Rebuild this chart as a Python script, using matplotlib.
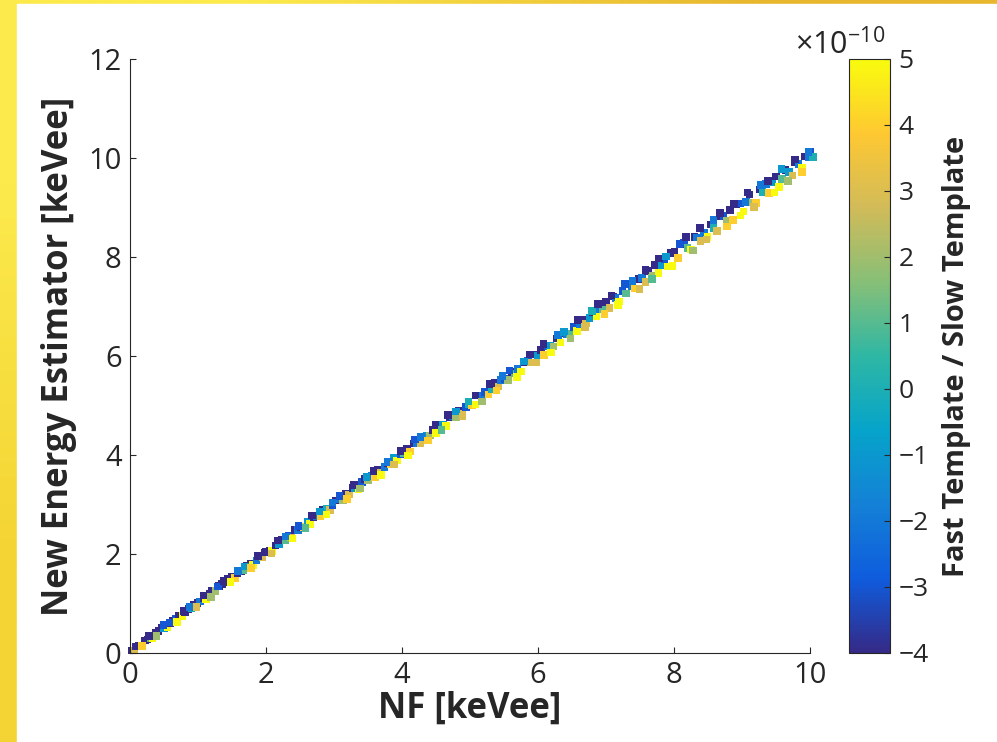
import numpy as np
import matplotlib
matplotlib.use('Agg')
import matplotlib.pyplot as plt
from matplotlib.colors import LinearSegmentedColormap
from matplotlib.patches import Rectangle

plt.rcParams['font.family'] = ['Open Sans', 'DejaVu Sans']
plt.rcParams['mathtext.fontset'] = 'custom'
plt.rcParams['mathtext.rm'] = 'Open Sans'
plt.rcParams['mathtext.it'] = 'Open Sans'

# Dados: energia NF, desvio do novo estimador e razao de templates (x1e-10)
nf = np.array([
    0.03, 0.06, 0.10, 0.13, 0.17, 0.22, 0.26, 0.30, 0.33, 0.38,
    0.42, 0.47, 0.50, 0.55, 0.59, 0.63, 0.68, 0.72, 0.77, 0.81,
    0.86, 0.90, 0.94, 0.99, 1.03, 1.08, 1.12, 1.17, 1.21, 1.26,
    1.31, 1.35, 1.40, 1.44, 1.49, 1.54, 1.58, 1.63, 1.67, 1.72,
    1.77, 1.81, 1.86, 1.91, 1.95, 2.00, 2.05, 2.09, 2.14, 2.19,
    2.23, 2.28, 2.33, 2.37, 2.42, 2.47, 2.51, 2.56, 2.61, 2.65,
    2.70, 2.75, 2.80, 2.84, 2.89, 2.94, 2.98, 3.03, 3.08, 3.13,
    3.17, 3.22, 3.27, 3.31, 3.36, 3.41, 3.46, 3.50, 3.55, 3.60,
    3.65, 3.69, 3.74, 3.79, 3.84, 3.88, 3.93, 3.98, 4.03, 4.07,
    4.12, 4.17, 4.22, 4.27, 4.31, 4.36, 4.41, 4.46, 4.50, 4.55,
    4.60, 4.65, 4.70, 4.74, 4.79, 4.84, 4.89, 4.94, 4.98, 5.03,
    5.08, 5.13, 5.18, 5.22, 5.27, 5.32, 5.37, 5.42, 5.46, 5.51,
    5.56, 5.61, 5.66, 5.70, 5.75, 5.80, 5.85, 5.90, 5.94, 5.99,
    6.04, 6.09, 6.14, 6.18, 6.23, 6.28, 6.33, 6.38, 6.42, 6.47,
    6.52, 6.57, 6.62, 6.66, 6.71, 6.76, 6.81, 6.86, 6.90, 6.95,
    7.00, 7.05, 7.10, 7.14, 7.19, 7.24, 7.29, 7.34, 7.38, 7.43,
    7.48, 7.53, 7.58, 7.62, 7.67, 7.72, 7.77, 7.82, 7.86, 7.91,
    7.96, 8.01, 8.06, 8.10, 8.15, 8.20, 8.25, 8.30, 8.34, 8.39,
    8.44, 8.49, 8.54, 8.58, 8.63, 8.68, 8.73, 8.78, 8.82, 8.87,
    8.92, 8.97, 9.02, 9.06, 9.11, 9.16, 9.21, 9.26, 9.30, 9.35,
    9.40, 9.45, 9.50, 9.54, 9.59, 9.64, 9.69, 9.74, 9.78, 9.83,
    9.88, 9.93, 9.98, 10.01, 10.04])

desvio = np.array([
    0.02, -0.01, 0.03, 0.02, -0.03, 0.03, 0.01, 0.00, -0.03, 0.02,
    0.03, 0.04, 0.00, -0.03, 0.02, 0.03, 0.01, 0.04, -0.02, 0.02,
    0.03, 0.00, 0.04, 0.02, 0.01, 0.03, -0.03, 0.02, 0.04, -0.01,
    0.04, 0.05, 0.03, 0.05, 0.04, -0.02, 0.03, 0.02, 0.00, 0.04,
    0.03, -0.03, 0.01, 0.04, -0.02, 0.04, 0.02, -0.03, 0.03, 0.00,
    0.05, -0.01, 0.04, -0.04, 0.06, 0.02, 0.03, -0.02, 0.05, -0.04,
    0.04, 0.02, -0.03, 0.06, 0.03, -0.05, 0.00, 0.05, 0.02, -0.04,
    0.05, -0.02, 0.06, 0.01, -0.05, 0.04, 0.06, -0.01, 0.03, -0.04,
    0.05, -0.05, 0.02, 0.04, -0.03, 0.06, -0.04, 0.03, 0.00, 0.05,
    -0.05, 0.06, 0.02, -0.04, 0.05, 0.03, -0.02, 0.04, -0.06, 0.05,
    0.01, -0.06, 0.07, 0.04, -0.02, 0.06, -0.05, 0.03, 0.05, -0.03,
    -0.06, 0.07, 0.02, 0.05, -0.05, 0.00, 0.08, -0.04, 0.06, 0.03,
    -0.05, 0.07, -0.01, 0.04, -0.06, 0.08, 0.05, -0.03, 0.09, 0.02,
    0.08, -0.07, 0.06, 0.02, -0.04, 0.07, -0.06, 0.09, 0.03, -0.02,
    0.06, -0.07, 0.03, 0.08, -0.05, 0.01, 0.07, -0.06, 0.04, -0.01,
    0.09, -0.08, 0.10, 0.03, -0.09, 0.07, -0.03, 0.11, 0.04, -0.07,
    0.08, 0.04, -0.08, 0.10, -0.05, 0.12, -0.09, 0.01, 0.09, -0.10,
    0.12, 0.10, -0.08, 0.15, 0.13, -0.02, -0.10, 0.11, 0.05, -0.07,
    0.04, -0.09, 0.12, 0.00, -0.11, 0.14, 0.10, -0.05, 0.13, -0.12,
    0.14, 0.11, -0.10, 0.05, 0.15, -0.06, -0.12, 0.10, 0.01, 0.12,
    -0.11, 0.06, 0.13, -0.12, -0.01, 0.12, 0.03, -0.09, 0.14, 0.05,
    -0.08, 0.10, 0.03, 0.12, -0.02])

razao = np.array([
    -5, 3, -5, -5, 6, -5, -5, 1, 6, -5,
    -5, -5, -1, 6, -5, -5, -3, -5, 6, -5,
    -5, 0, -5, -5, -2, -5, 6, -5, -5, 2,
    -5, -5, -5, -5, -5, 4, -5, -5, 1, -5,
    -5, 6, -2, -5, 3, -5, -5, 5, -5, -1,
    -5, 1, -3, 3, -5, -2, -5, 4, -1, 6,
    -5, -2, 4, -5, 0, 3, -3, -5, -2, 2,
    -5, 3, -5, -1, 6, -3, -5, 2, -2, 4,
    -5, 3, -2, -5, 4, -1, 6, -3, 1, -5,
    4, -5, -2, 3, -5, -1, 2, -4, 6, -3,
    -1, 5, -5, -2, 2, -5, 3, -3, 0, 4,
    6, -5, -2, -3, 4, 0, -5, 3, -2, -3,
    2, -5, 1, -2, 6, -5, -3, 3, -5, -1,
    -5, 4, -3, -1, 2, -5, 6, -4, -2, 1,
    -3, 6, -2, -5, 3, -1, -4, 5, -2, 1,
    -5, 3, -5, -2, 6, -3, 1, -5, -2, 4,
    -5, -2, 3, -5, 2, -5, 6, -1, -3, 5,
    -5, -5, 4, -5, -3, 1, 6, -5, -2, 3,
    -2, 5, -5, 0, 3, -5, -3, 2, -5, 4,
    -5, -3, 6, -2, -5, 2, 4, -5, 0, -2,
    4, -1, -5, 6, 1, -5, -1, 3, -5, -2,
    5, -5, -2, -3, 0])

# segundo grupo de eventos (mais dispersos)
nf2 = np.array([
    0.08, 0.18, 0.28, 0.39, 0.49, 0.58, 0.69, 0.79, 0.88, 0.98,
    1.09, 1.19, 1.29, 1.38, 1.48, 1.59, 1.69, 1.78, 1.88, 1.98,
    2.08, 2.18, 2.29, 2.39, 2.48, 2.58, 2.68, 2.79, 2.89, 2.98,
    3.08, 3.19, 3.29, 3.38, 3.48, 3.58, 3.69, 3.79, 3.88, 3.98,
    4.09, 4.19, 4.28, 4.38, 4.49, 4.58, 4.68, 4.79, 4.89, 4.98,
    5.08, 5.18, 5.29, 5.39, 5.48, 5.58, 5.69, 5.79, 5.88, 5.98,
    6.08, 6.19, 6.29, 6.38, 6.48, 6.58, 6.69, 6.79, 6.88, 6.98,
    7.08, 7.18, 7.28, 7.39, 7.49, 7.58, 7.68, 7.78, 7.88, 7.98,
    8.08, 8.18, 8.28, 8.38, 8.48, 8.58, 8.68, 8.78, 8.88, 8.98,
    9.08, 9.18, 9.28, 9.38, 9.48, 9.58, 9.68, 9.78, 9.88, 9.98])

desvio2 = np.array([
    0.05, -0.04, 0.06, -0.05, 0.07, 0.04, -0.06, 0.06, 0.05, -0.05,
    0.07, -0.06, 0.05, 0.08, -0.05, 0.07, 0.06, -0.06, 0.08, 0.05,
    -0.07, 0.09, 0.06, -0.08, 0.08, -0.05, 0.10, 0.07, -0.09, 0.06,
    0.09, -0.08, 0.11, -0.06, 0.08, 0.10, -0.09, 0.07, -0.07, 0.10,
    -0.10, 0.12, 0.08, -0.09, 0.11, -0.08, 0.13, 0.09, -0.11, 0.10,
    0.12, -0.10, 0.14, -0.09, 0.11, 0.13, -0.12, 0.10, 0.15, -0.11,
    0.16, -0.12, 0.13, 0.10, -0.13, 0.15, -0.11, 0.12, 0.17, -0.13,
    0.14, -0.15, 0.18, 0.12, -0.14, 0.16, -0.12, 0.19, 0.13, -0.16,
    0.18, 0.22, -0.15, 0.20, -0.13, 0.17, 0.21, -0.16, 0.19, -0.14,
    0.22, -0.17, 0.18, 0.15, -0.18, 0.20, -0.15, 0.19, -0.16, 0.14])

razao2 = np.array([
    -5, 4, -5, 2, -3, -3, 6, -5, -2, 3,
    -5, 2, -3, -5, 6, -2, -1, 4, -5, -4,
    3, -5, -2, 5, -3, 1, -5, -1, 6, -2,
    -3, 4, -5, 2, -1, -5, 5, -2, 3, -5,
    6, -3, -2, 4, -5, 1, -5, -1, 3, 0,
    -5, 2, -5, 4, -2, -3, 6, -1, -5, 3,
    -4, 5, -2, -1, 2, -5, 3, 0, -5, 4,
    -5, 6, -3, -2, 3, -5, 1, -5, -1, 5,
    -3, -5, 2, -5, 3, -2, -5, 4, -5, 6,
    -5, 3, -2, -4, 6, -1, 2, -5, 4, -2])

x_todos = np.concatenate([nf, nf2])
y_todos = np.concatenate([nf + desvio, nf2 + desvio2])
c_todos = np.concatenate([razao, razao2])

# colormap parula (aproximado)
parula = LinearSegmentedColormap.from_list('parula', [
    '#352a87', '#0f5cdd', '#1481d6', '#06a4ca', '#2eb7a4',
    '#87bf77', '#d1bb59', '#fec832', '#f9fb0e'])

cinza = '#262626'
fig = plt.figure(figsize=(9.97, 7.42), dpi=100)

# moldura amarela em degrade
fundo = fig.add_axes([0, 0, 1, 1], zorder=-10)
grad = np.array([[[252, 234, 76], [232, 183, 46]],
                 [[244, 212, 52], [240, 200, 60]]]) / 255.0
fundo.imshow(grad, extent=[0, 1, 0, 1], aspect='auto', interpolation='bilinear')
fundo.add_patch(Rectangle((17 / 997, 0), 1, 1 - 4 / 742, color='white'))
fundo.set_xlim(0, 1)
fundo.set_ylim(0, 1)
fundo.axis('off')

ax = fig.add_axes([130 / 997, 1 - 653 / 742, 680 / 997, 594 / 742])
sc = ax.scatter(x_todos, y_todos, c=c_todos, cmap=parula, vmin=-4, vmax=5,
                marker='s', s=30, linewidths=0, clip_on=False)
ax.set_xlim(0, 10)
ax.set_ylim(0, 12)
ax.set_xticks([0, 2, 4, 6, 8, 10])
ax.set_yticks([0, 2, 4, 6, 8, 10, 12])
ax.spines['top'].set_visible(False)
ax.spines['right'].set_visible(False)
for s in ['left', 'bottom']:
    ax.spines[s].set_color(cinza)
ax.tick_params(direction='in', length=4, color=cinza, labelcolor=cinza,
               labelsize=21, pad=6)
ax.set_xlabel('NF [keVee]', fontsize=25, fontweight='bold', color=cinza, labelpad=0)
ax.set_ylabel('New Energy Estimator [keVee]', fontsize=25, fontweight='bold',
              color=cinza, labelpad=8)

cax = fig.add_axes([849 / 997, 1 - 653 / 742, 41 / 997, 594 / 742])
cb = fig.colorbar(sc, cax=cax, ticks=range(-4, 6))
cb.outline.set_edgecolor(cinza)
cax.tick_params(direction='in', length=4, color=cinza, labelcolor=cinza,
                labelsize=19, pad=6)
cb.set_label('Fast Template / Slow Template', fontsize=21, fontweight='bold',
             color=cinza, labelpad=10)
fig.text(795 / 997, 1 - 54 / 742, r'$\times10^{-10}$', fontsize=22, color=cinza)

fig.savefig('out.png', dpi=100)
